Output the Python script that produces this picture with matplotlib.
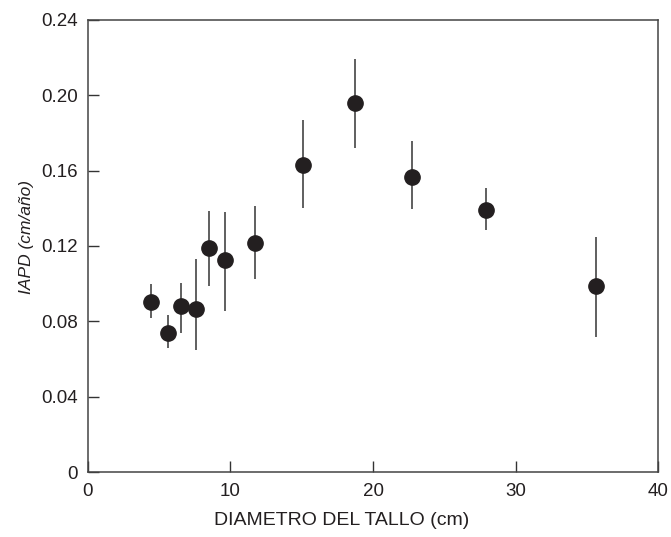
import matplotlib
matplotlib.use("Agg")
import matplotlib.pyplot as plt

diametro = [4.4, 5.6, 6.5, 7.6, 8.5, 9.6, 11.7, 15.1, 18.7, 22.7, 27.9, 35.6]
iapd = [0.090, 0.074, 0.088, 0.0865, 0.119, 0.1125, 0.1215, 0.163, 0.196, 0.1566, 0.139, 0.0987]
err_top = [0.0998, 0.0833, 0.1003, 0.113, 0.1385, 0.138, 0.141, 0.187, 0.219, 0.1757, 0.1507, 0.1247]
err_bot = [0.0817, 0.0658, 0.0738, 0.0648, 0.0987, 0.0855, 0.1024, 0.140, 0.172, 0.1396, 0.1284, 0.0717]

x_ticks = [0, 10, 20, 30, 40]
x_labels = ["0", "10", "20", "30", "40"]
y_ticks = [0, 0.04, 0.08, 0.12, 0.16, 0.20, 0.24]
y_labels = ["0", "0.04", "0.08", "0.12", "0.16", "0.20", "0.24"]

plt.rcParams['font.family'] = ['Liberation Sans', 'DejaVu Sans']

fig = plt.figure(figsize=(6.71, 5.37), dpi=100)
ax = fig.add_axes([0.131, 0.121, 0.850, 0.842])

lower = [v - b for v, b in zip(iapd, err_bot)]
upper = [t - v for v, t in zip(iapd, err_top)]
ax.errorbar(diametro, iapd, yerr=[lower, upper], fmt='none', ecolor='#444444',
            elinewidth=1.2, capsize=0, zorder=2)
ax.plot(diametro, iapd, 'o', color='#231f20', markersize=11, zorder=3)

ax.set_xlim(0, 40)
ax.set_ylim(0, 0.24)
ax.set_xticks(x_ticks)
ax.set_xticklabels(x_labels)
ax.set_yticks(y_ticks)
ax.set_yticklabels(y_labels)
ax.tick_params(direction='in', length=8, width=1, colors='#333333', labelcolor='#231f20',
               labelsize=13.5)
ax.tick_params(axis='y', pad=7)
ax.tick_params(axis='x', pad=8)
for s in ax.spines.values():
    s.set_color('#444444')
    s.set_linewidth(1.1)

ax.set_xlabel("DIAMETRO DEL TALLO (cm)", fontsize=14, color='#231f20', labelpad=9)
ax.set_ylabel("IAPD (cm/año)", fontsize=12.5, style='italic', color='#231f20', labelpad=5)
ax.xaxis.set_label_coords(0.444, -0.088)
ax.yaxis.label.set_y(0.52)

fig.savefig("out.png", dpi=100)
